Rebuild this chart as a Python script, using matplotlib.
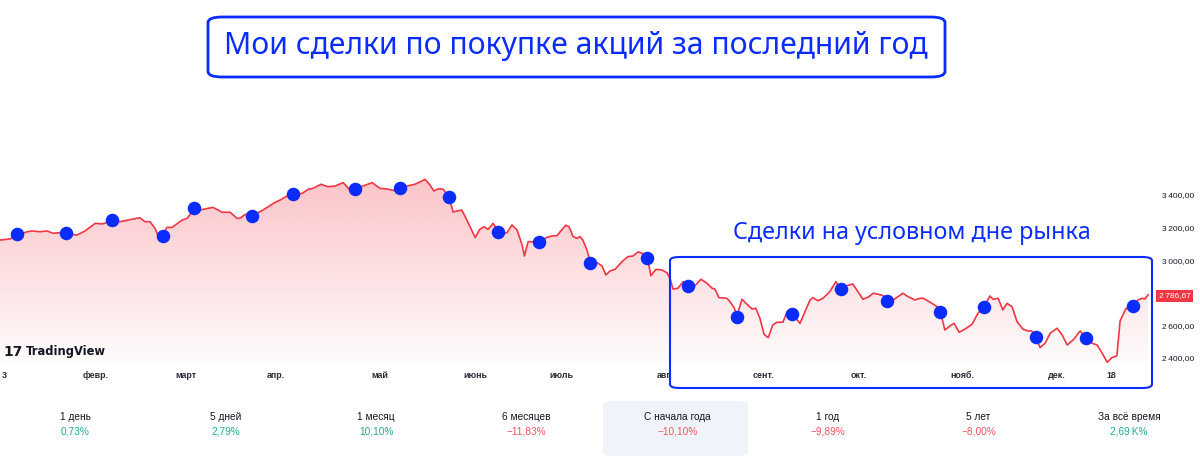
import matplotlib
matplotlib.use("Agg")
import matplotlib.pyplot as plt
import numpy as np
from matplotlib.patches import FancyBboxPatch
from matplotlib.colors import to_rgb

# ---- data (IMOEX-like index, trading session index vs close) ----
session = [0, 2.2, 3.7, 5.9, 7.0, 8.7, 10.2, 11.5, 13.0, 14.3, 16.7, 18.5, 20.7, 22.2, 24.3,
           26.1, 28.7, 30.4, 31.5, 32.6, 33.7, 34.6, 35.4, 36.3, 37.4, 39.6, 40.7, 42.2, 43.5,
           45.2, 46.3, 48.3, 50.0, 51.5, 52.2, 53.3, 54.8, 57.2, 59.8, 60.9, 62.4, 63.7, 65.7,
           67.0, 68.0, 69.8, 71.3, 72.8, 74.6, 76.1, 77.2, 78.9, 80.9, 82.6, 84.1, 85.9, 87.0,
           88.5, 90.2, 92.4, 93.5, 94.3, 95.2, 96.3, 97.6, 98.5, 99.6, 100.4, 101.5, 103.3,
           104.3, 105.2, 106.1, 107.2, 108.3, 109.1, 110.2, 111.3, 112.4, 113.5, 114.0, 114.8,
           115.9, 117.2, 118.9, 120.0, 121.1, 122.2, 123.0, 123.7, 124.6, 125.4, 126.1, 126.7,
           127.6, 128.3, 129.8, 130.9, 131.7, 132.6, 133.7, 135.2, 136.5, 137.6, 138.7, 139.6,
           140.7, 141.5, 142.6, 143.9, 145.0, 145.7, 146.3, 147.4, 148.5, 149.6, 151.1, 152.4,
           153.7, 154.8, 155.4, 156.3, 158.0, 158.7, 159.6, 160.2, 161.3, 162.4, 163.5, 164.3,
           165.2, 166.1, 167.0, 168.0, 168.9, 170.2, 171.1, 172.2, 173.9, 175.0, 176.1, 176.7,
           177.8, 178.9, 180.4, 181.7, 182.8, 184.1, 185.4, 186.5, 187.6, 188.9, 189.8, 190.9,
           192.0, 192.8, 193.9, 195.2, 196.3, 197.4, 198.9, 200.0, 200.7, 202.2, 203.7, 204.3,
           204.8, 205.4, 206.5, 207.4, 208.5, 209.8, 211.3, 212.6, 213.9, 215.2, 215.9, 217.0,
           218.0, 218.9, 220.0, 221.1, 222.4, 223.5, 224.3, 225.2, 226.1, 227.2, 228.3, 229.8,
           230.9, 232.0, 233.3, 234.8, 236.1, 237.4, 238.5, 239.6, 240.7, 241.7, 242.8, 243.5,
           244.8, 245.7, 246.3, 247.4, 248.3, 248.9, 249.6]
price = [3123, 3130, 3154, 3174, 3179, 3174, 3179, 3165, 3168, 3163, 3154, 3179, 3226, 3222, 3240,
         3236, 3251, 3260, 3236, 3236, 3195, 3134, 3154, 3201, 3201, 3246, 3257, 3314, 3308,
         3318, 3324, 3294, 3294, 3257, 3257, 3281, 3271, 3308, 3355, 3369, 3394, 3403, 3410,
         3435, 3441, 3466, 3451, 3455, 3476, 3431, 3437, 3455, 3476, 3441, 3437, 3426, 3440,
         3455, 3466, 3496, 3461, 3425, 3437, 3437, 3388, 3296, 3303, 3307, 3246, 3138,
         3189, 3205, 3189, 3226, 3176, 3165, 3168, 3216, 3185, 3093, 3025, 3113,
         3113, 3113, 3140, 3148, 3150, 3189, 3214, 3205, 3144, 3134, 3144, 3123,
         3062, 2985, 2984, 2964, 2908, 2933, 2943, 2990, 3021, 3025, 3050, 3042,
         3019, 2904, 2943, 2939, 2922, 2884, 2822, 2827, 2867, 2847, 2843, 2882,
         2857, 2827, 2822, 2769, 2765, 2744, 2707, 2656, 2759, 2728, 2699, 2704,
         2642, 2544, 2523, 2601, 2618, 2618, 2683, 2672, 2611, 2683, 2755, 2769,
         2750, 2765, 2806, 2867, 2825, 2843, 2853, 2806, 2759, 2775, 2796, 2790,
         2781, 2752, 2749, 2775, 2796, 2775, 2755, 2765, 2765, 2741, 2714, 2687,
         2642, 2570, 2595, 2611, 2556, 2576, 2605, 2673, 2712, 2779, 2759, 2765,
         2693, 2734, 2714, 2621, 2575, 2564, 2564, 2527, 2462, 2489, 2550, 2581,
         2540, 2478, 2509, 2564, 2521, 2489, 2478, 2427, 2372, 2400, 2412, 2626,
         2704, 2693, 2720, 2755, 2765, 2761, 2786.67]

deal_session = [3.7, 14.3, 24.3, 35.4, 42.2, 54.8, 63.8, 77.2, 87.0, 97.7, 108.2, 117.2,
                128.3, 140.6, 149.6, 160.2, 172.2, 182.9, 192.8, 204.3, 213.9, 225.2, 236.0, 246.4]
deal_price = [3160, 3165, 3246, 3146, 3318, 3269, 3404, 3437, 3441, 3386, 3171, 3113,
              2980, 3015, 2843, 2652, 2669, 2822, 2749, 2683, 2710, 2525, 2519, 2720]

month_pos = [0.9, 20.8, 40.4, 60.0, 82.6, 103.3, 122.0, 144.5, 165.9, 186.6, 209.2, 229.8, 241.7]
month_labels = ["3", "февр.", "март", "апр.", "май", "июнь", "июль", "авг.", "сент.",
                "окт.", "нояб.", "дек.", "18"]
price_ticks = [2400, 2600, 3000, 3200, 3400]
price_tick_labels = ["2\u2009400,00", "2\u2009600,00", "3\u2009000,00", "3\u2009200,00", "3\u2009400,00"]
last_label = "2\u2009786,67"

periods = ["1 день", "5 дней", "1 месяц", "6 месяцев", "С начала года", "1 год", "5 лет", "За всё время"]
changes = ["0,73%", "2,79%", "10,10%", "\u221211,83%", "\u221210,10%", "\u22129,89%", "\u22128,00%", "2,69\u2009K%"]
change_up = [True, True, True, False, False, False, False, True]

RED = "#f23645"
BLUE = "#0a2cff"
INK = "#131722"
SMALL = ["Liberation Sans", "DejaVu Sans"]
W, H = 1200, 457


def fx(px):
    return px / W


def fy(py):
    return 1 - py / H


fig = plt.figure(figsize=(12, 4.57), dpi=100)
ax = fig.add_axes([0, fy(365), fx(1150), fy(100) - fy(365)])
ax.set_xlim(0, 250)
ax.set_ylim(2355, 3984)

# line + gradient area
ax.plot(session, price, color=RED, lw=1.2, zorder=3, solid_joinstyle="round")
area = ax.fill_between(session, price, 2355, color="none", lw=0)
grad = np.zeros((256, 1, 4))
grad[..., :3] = to_rgb(RED)
grad[..., 3] = np.linspace(0.015, 0.29, 256)[:, None]
im = ax.imshow(grad, extent=[0, 250, 2355, 3490], origin="lower", aspect="auto",
               zorder=1, interpolation="bilinear")
im.set_clip_path(area.get_paths()[0], transform=ax.transData)

ax.scatter(deal_session, deal_price, s=95, color=BLUE, zorder=5, lw=0)

for s in ax.spines.values():
    s.set_visible(False)
ax.set_xticks(month_pos, month_labels)
ax.tick_params(axis="x", length=0, pad=4, labelsize=6.4, labelcolor="#2a2e39")
for t in ax.get_xticklabels():
    t.set_family(SMALL)
    t.set_fontweight("bold")
ax.yaxis.tick_right()
ax.set_yticks(price_ticks, price_tick_labels)
ax.tick_params(axis="y", length=0, pad=9, labelsize=6.0, labelcolor=INK)
for t in ax.get_yticklabels():
    t.set_family(SMALL)

# last price marker
fig.text(fx(1174.5), fy(295.5), last_label, color="white", fontsize=6.0, ha="center", va="center",
         family=SMALL, bbox=dict(boxstyle="square,pad=0.3", fc=RED, ec="none"))

# TradingView watermark
fig.text(fx(3), fy(352), "17", fontsize=10, fontweight="heavy", color=INK, va="center", ha="left")
fig.text(fx(26), fy(352), "TradingView", fontsize=8.3, fontweight="semibold", color=INK,
         va="center", ha="left")

# title box
fig.patches.append(FancyBboxPatch((fx(208), fy(77)), fx(945) - fx(208), fy(17) - fy(77),
                                  boxstyle="round,pad=0,rounding_size=0.012", transform=fig.transFigure,
                                  fc="white", ec=BLUE, lw=2))
fig.text(fx(576), fy(46), "Мои сделки по покупке акций за последний год", fontsize=21.7,
         family="Noto Sans", color=BLUE, ha="center", va="center")

# highlighted zone
fig.patches.append(FancyBboxPatch((fx(670), fy(388)), fx(1152) - fx(670), fy(257) - fy(388),
                                  boxstyle="round,pad=0,rounding_size=0.008", transform=fig.transFigure,
                                  fc="none", ec=BLUE, lw=1.5, zorder=6))
fig.text(fx(912), fy(233), "Сделки на условном дне рынка", fontsize=16.8, family="Noto Sans",
         color=BLUE, ha="center", va="center")

# period stats row
fig.patches.append(FancyBboxPatch((fx(603), fy(456)), fx(748) - fx(603), fy(401) - fy(456),
                                  boxstyle="round,pad=0,rounding_size=0.008", transform=fig.transFigure,
                                  fc="#f0f3fa", ec="none"))
for i, (p, c, up) in enumerate(zip(periods, changes, change_up)):
    cx = 75 + i * 150.6
    fig.text(fx(cx), fy(417), p, fontsize=7.3, color=INK, ha="center", va="center",
             family="Liberation Sans")
    fig.text(fx(cx), fy(432), c, fontsize=7.3, color="#22ab94" if up else "#f7525f",
             ha="center", va="center", family="Liberation Sans")

fig.savefig("out.png", dpi=100)
